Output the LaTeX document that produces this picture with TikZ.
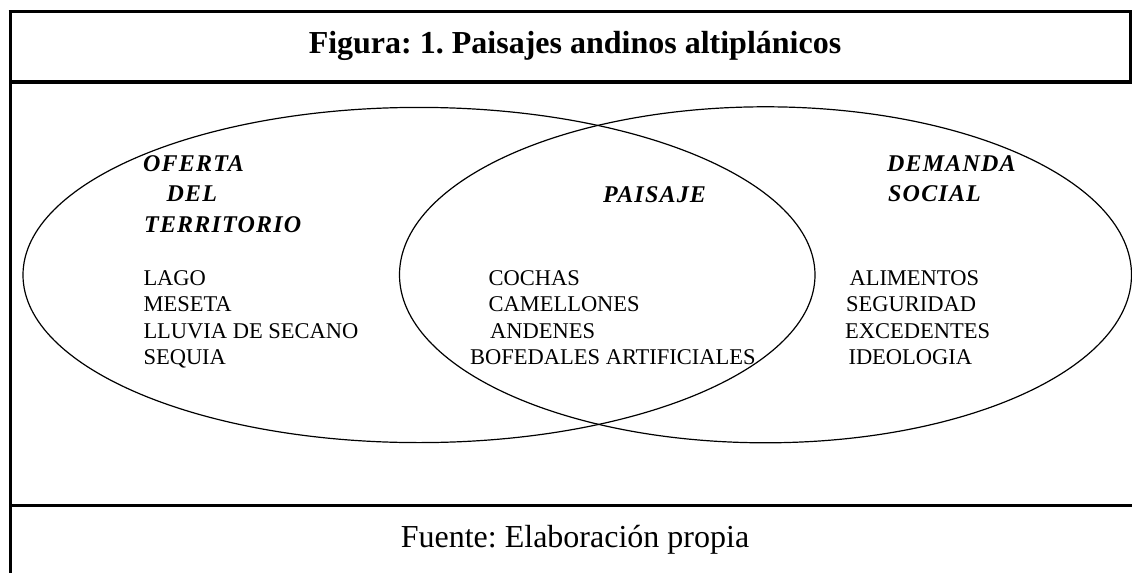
\documentclass[tikz,border=0pt]{standalone}
\usepackage{fontspec}
\setmainfont{Liberation Serif}
\newfontfamily\headfont[LetterSpace=5]{Liberation Serif}
\frenchspacing
\tikzset{
  lst/.style={inner sep=0pt, anchor=base west, font=\fontsize{22.5}{27}\selectfont},
  hd/.style={inner sep=0pt, anchor=base west, font=\fontsize{24}{28}\headfont\bfseries\itshape},
  framerule/.style={line width=3.6pt},
  venn/.style={line width=1.2pt}
}
\begin{document}
\begin{tikzpicture}[x=1pt,y=-1pt]
\useasboundingbox (0,0) rectangle (1132,573);
% frame
\draw[framerule] (8.7,11.5) -- (1132,11.5);
\draw[framerule] (10.5,10) -- (10.5,573);
\draw[framerule] (1130.5,10) -- (1130.5,83);
\draw[framerule] (10.5,82) -- (1132,82);
\draw[framerule] (10.5,505.5) -- (1132,505.5);
% title and source
\node[inner sep=0pt, anchor=base, font=\fontsize{32}{36}\selectfont\bfseries] (title) at (575,53) {Figura: 1. Paisajes andinos altiplánicos};
\node[inner sep=0pt, anchor=base, font=\fontsize{32}{36}\selectfont] (fuente) at (575,547) {Fuente: Elaboración propia};
% venn ellipses
\draw[venn] (419,275) ellipse [x radius=396pt, y radius=167.6pt];
\draw[venn] (765.5,274.8) ellipse [x radius=366pt, y radius=168pt];
% headings
\node[hd] (oferta) at (143,171.5) {OFERTA};
\node[hd] (del) at (166.5,201.5) {DEL};
\node[hd] (territorio) at (144,232.5) {TERRITORIO};
\node[hd] (paisaje) at (603,202.5) {PAISAJE};
\node[hd] (demanda) at (887,171.5) {DEMANDA};
\node[hd] (social) at (888,201.5) {SOCIAL};
% left list
\node[lst] (lago) at (143.3,285.7) {LAGO};
\node[lst] (meseta) at (143.3,311.7) {MESETA};
\node[lst] (lluvia) at (143.3,338.3) {LLUVIA DE SECANO};
\node[lst] (sequia) at (143.3,364) {SEQUIA};
% middle list
\node[lst] (cochas) at (488.3,285.7) {COCHAS};
\node[lst] (camellones) at (488.3,311.7) {CAMELLONES};
\node[lst] (andenes) at (490,338.3) {ANDENES};
\node[lst] (bofedales) at (470,364) {BOFEDALES ARTIFICIALES};
% right list
\node[lst] (alimentos) at (849.3,285.7) {ALIMENTOS};
\node[lst] (seguridad) at (846,311.7) {SEGURIDAD};
\node[lst] (excedentes) at (845,338.3) {EXCEDENTES};
\node[lst] (ideologia) at (848.3,364) {IDEOLOGIA};
\end{tikzpicture}
\end{document}
